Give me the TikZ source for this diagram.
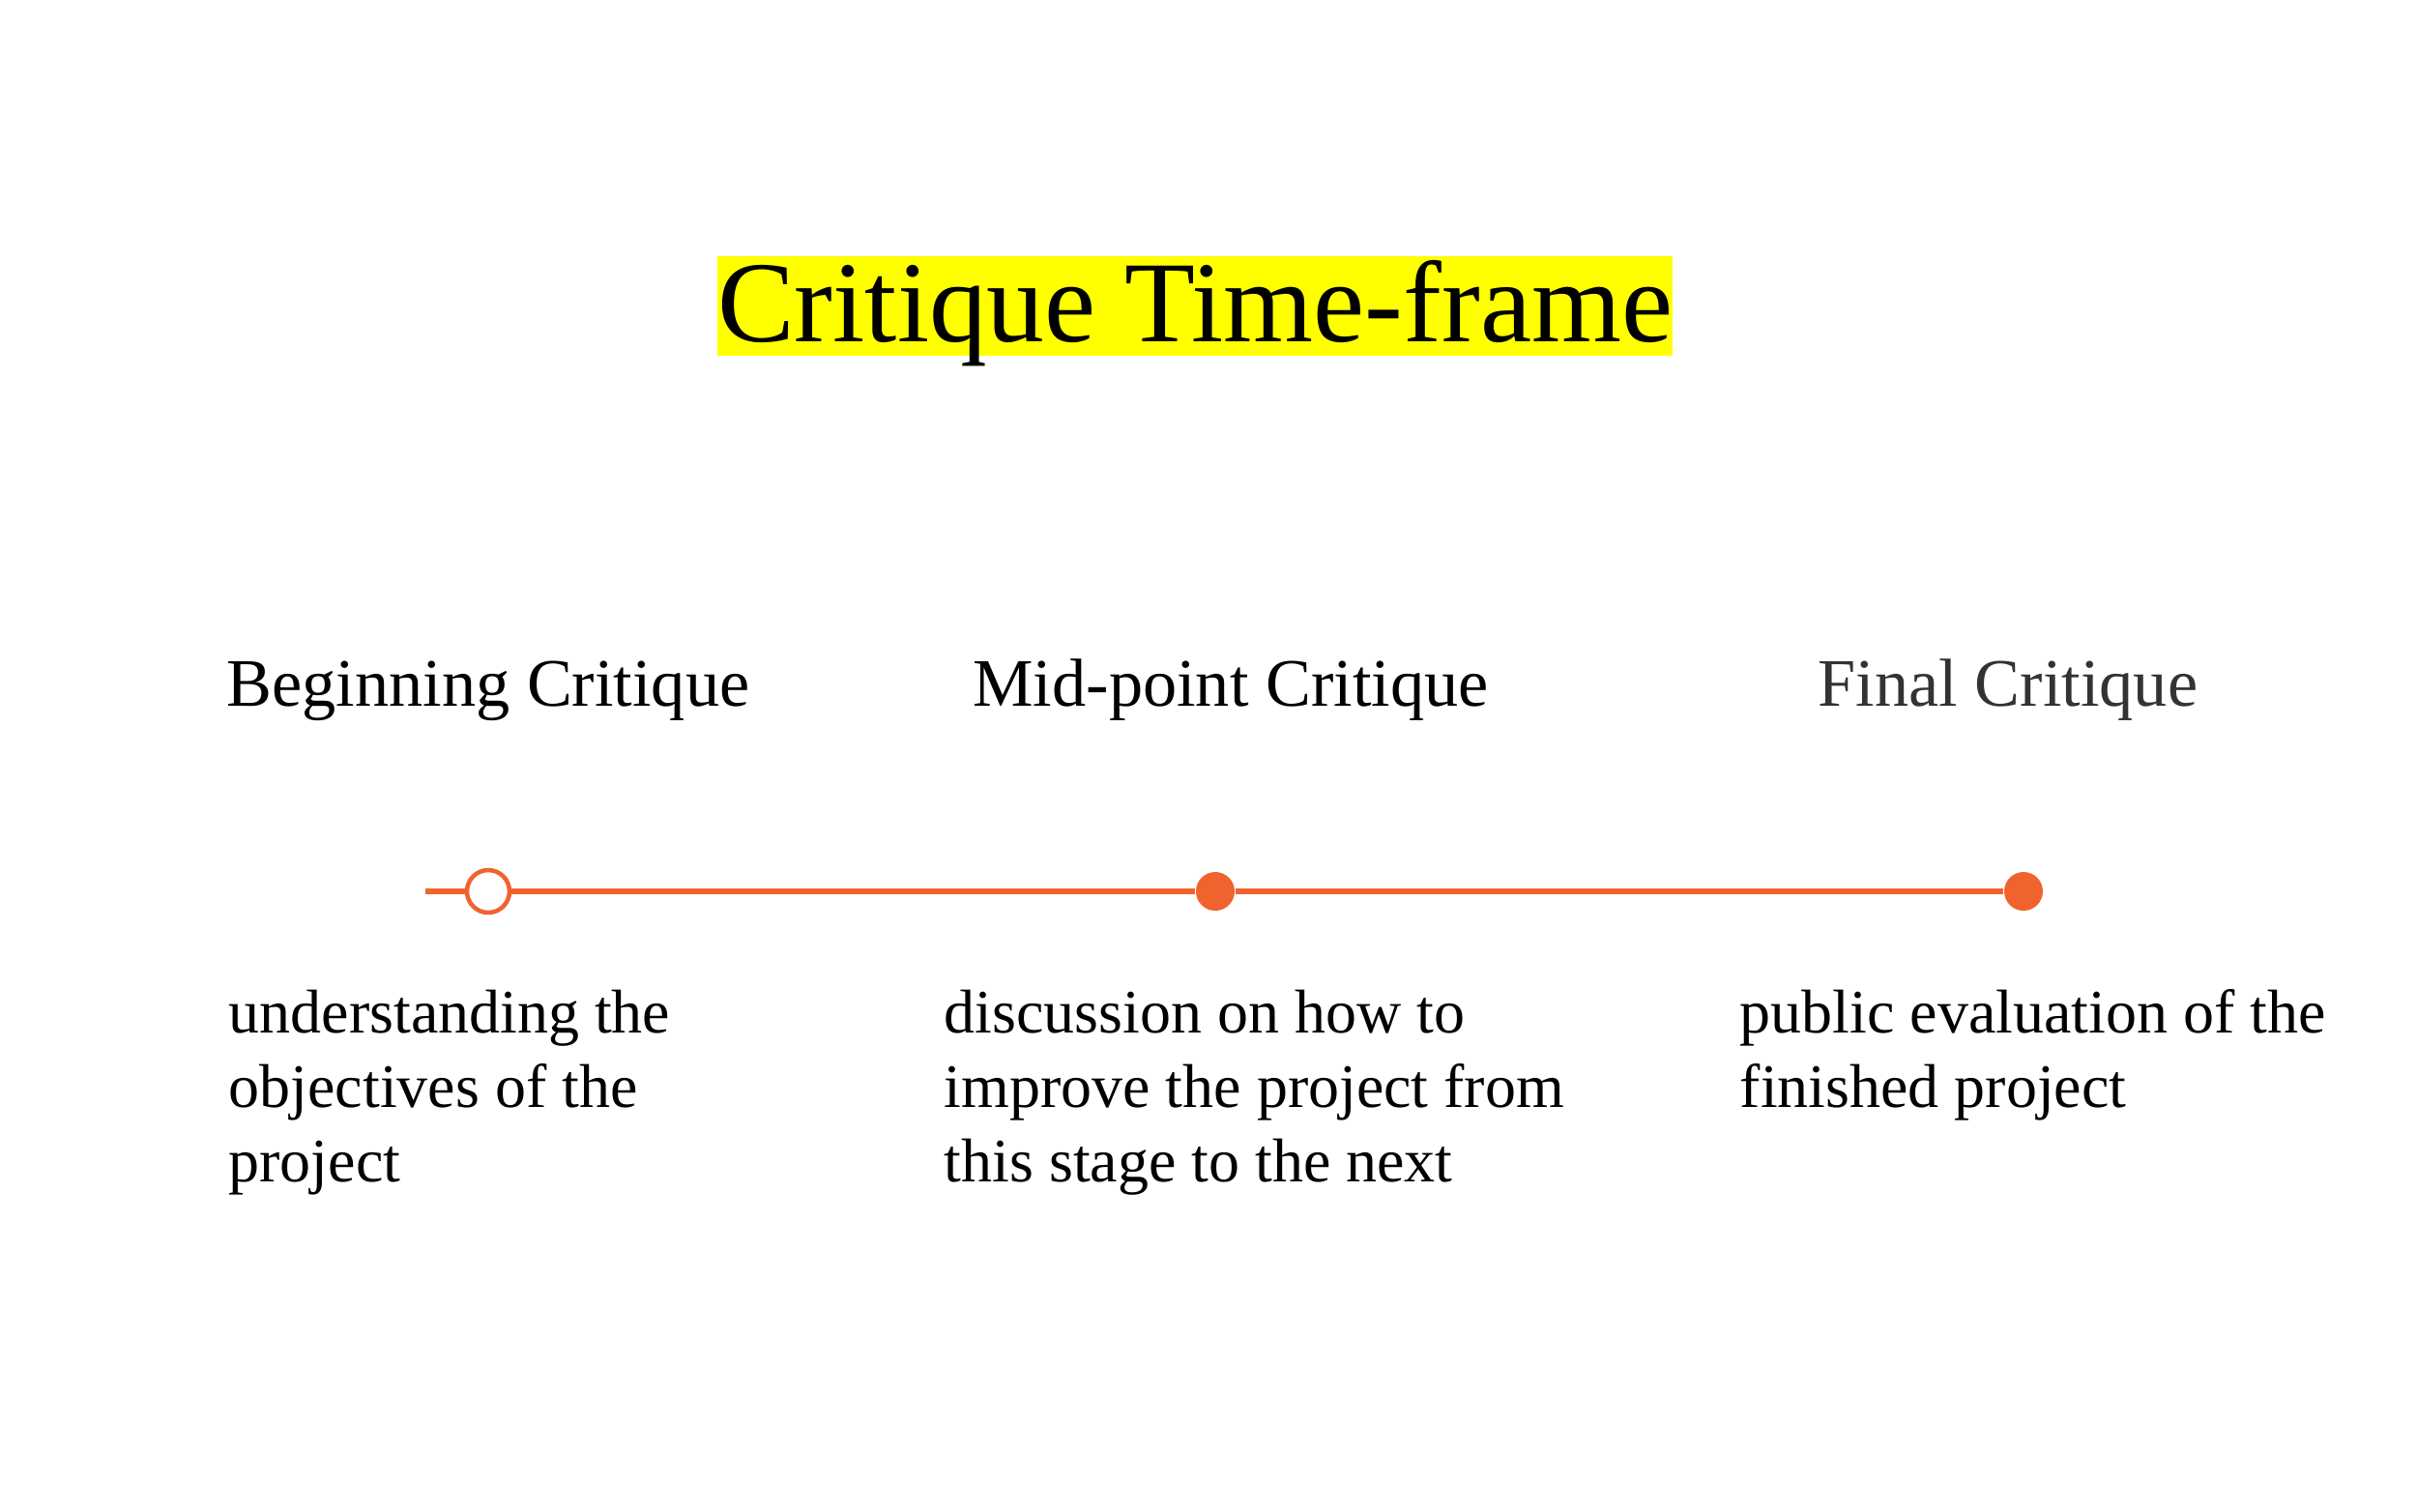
\documentclass[tikz,border=0pt]{standalone}
\usepackage{fontspec}
\setmainfont{Liberation Serif}
\usepackage{xcolor}
\usetikzlibrary{positioning,calc}
\definecolor{tlorange}{RGB}{240,99,46}
\definecolor{hlyellow}{RGB}{255,255,0}
\definecolor{softblack}{RGB}{51,51,51}

\tikzset{
  titlebox/.style={fill=hlyellow, inner sep=0pt, minimum width=9.88cm,
    text height=0.89cm, text depth=0.14cm, font=\fontsize{34}{38}\selectfont},
  head/.style={inner sep=0pt, font=\fontsize{20}{24}\selectfont},
  desc/.style={inner sep=0pt, anchor=north west, align=left,
    font=\fontsize{18.2}{21.9}\selectfont},
  opendot/.style={circle, draw=tlorange, line width=0.045cm, fill=white,
    inner sep=0pt, minimum size=0.44cm},
  fulldot/.style={circle, fill=tlorange, inner sep=0pt, minimum size=0.4cm}
}

\begin{document}
\begin{tikzpicture}
\useasboundingbox (0,0) rectangle (25,15.63);

\node[titlebox] (title) at (12.36, 12.47) {Critique Time-frame};

\coordinate (start) at (4.40, 6.41);
\node[opendot] (beg) at (5.05, 6.41) {};
\node[fulldot] (mid) at (12.57, 6.41) {};
\node[fulldot] (fin) at (20.93, 6.41) {};

\node[head, above=1.76cm of beg.center] (begh) {Beginning Critique};
\node[head, xshift=0.16cm, above=1.76cm of mid.center] (midh) {Mid-point Critique};
\node[head, text=softblack, xshift=-0.16cm, above=1.76cm of fin.center] (finh) {Final Critique};

\node[desc] (begtxt) at (2.36, 5.40) {understanding the\\objectives of the\\project};
\node[desc] (midtxt) at (9.76, 5.40) {discussion on how to\\improve the project from\\this stage to the next};
\node[desc] (fintxt) at (17.99, 5.40) {public evaluation of the\\finished project};

\draw[tlorange, line width=0.06cm] (start) -- (beg);
\draw[tlorange, line width=0.06cm] (beg) -- (mid);
\draw[tlorange, line width=0.06cm] (mid) -- (fin);

\end{tikzpicture}
\end{document}
